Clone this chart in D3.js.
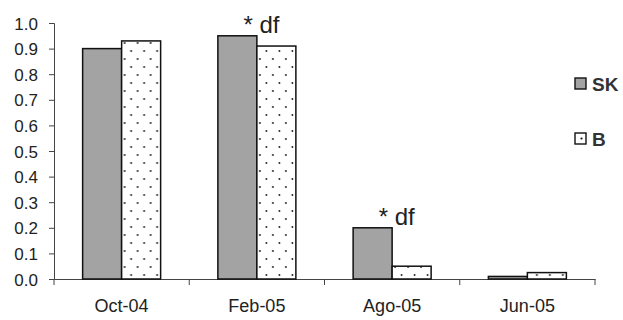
<!DOCTYPE html>
<html>
<head>
<meta charset="utf-8">
<script src="https://cdn.jsdelivr.net/npm/d3@7"></script>
<style>
  body { margin: 0; background: #fff; }
  svg { display: block; font-family: "Liberation Sans", Arial, sans-serif; }
</style>
</head>
<body>
<div id="chart"></div>
<script>
// Data
const categories = ["Oct-04", "Feb-05", "Ago-05", "Jun-05"];
const seriesNames = ["SK", "B"];
const skValues = [0.90, 0.95, 0.20, 0.01];
const bValues = [0.93, 0.91, 0.05, 0.025];
const yTicks = [0, 0.1, 0.2, 0.3, 0.4, 0.5, 0.6, 0.7, 0.8, 0.9, 1.0];
const annotations = [
    { cat: "Feb-05", series: "SK", text: "* df" },
    { cat: "Ago-05", series: "SK", text: "* df" }
];

const canvas = { w: 623, h: 320 };
const margin = { top: 23, right: 28, bottom: 41, left: 54 };
const plotW = 595 - margin.left;
const plotH = canvas.h - margin.top - margin.bottom;

const rows = categories.map((c, i) => ({ cat: c, SK: skValues[i], B: bValues[i] }));

const svg = d3.select("#chart").append("svg")
    .attr("width", canvas.w)
    .attr("height", canvas.h);

// dotted pattern for B
const defs = svg.append("defs");
const pat = defs.append("pattern")
    .attr("id", "dots")
    .attr("patternUnits", "userSpaceOnUse")
    .attr("width", 13)
    .attr("height", 16);
pat.append("rect").attr("width", 13).attr("height", 16).attr("fill", "#fff");
pat.append("circle").attr("cx", 3).attr("cy", 4).attr("r", 0.9).attr("fill", "#111");
pat.append("circle").attr("cx", 9.5).attr("cy", 12).attr("r", 0.9).attr("fill", "#111");

const fills = { SK: "#a3a3a3", B: "url(#dots)" };

const x0 = d3.scaleBand().domain(categories).range([0, plotW]).paddingInner(0).paddingOuter(0);
const x1 = d3.scaleBand().domain(seriesNames).range([0, 78]);
const groupOffset = (x0.bandwidth() - 78) / 2;
const y = d3.scaleLinear().domain([0, 1]).range([plotH, 0]);

const g = svg.append("g").attr("transform", `translate(${margin.left},${margin.top})`);

// Y axis
const yAxis = g.append("g")
    .call(d3.axisLeft(y).tickValues(yTicks).tickFormat(d3.format(".1f")).tickSize(5).tickPadding(11));
yAxis.selectAll("text").attr("font-size", 17).attr("fill", "#222").attr("dy", "0.36em");
yAxis.selectAll("line,path").attr("stroke", "#444");

// X axis
const xAxis = g.append("g")
    .attr("transform", `translate(0,${plotH})`)
    .call(d3.axisBottom(x0).tickSize(0).tickPadding(20));
xAxis.select(".domain").attr("stroke", "#444");
xAxis.selectAll("text").attr("font-size", 18).attr("fill", "#222");
// boundary ticks between categories
g.append("g").selectAll("line")
    .data(d3.range(categories.length + 1))
    .join("line")
    .attr("x1", d => d * x0.step())
    .attr("x2", d => d * x0.step())
    .attr("y1", plotH)
    .attr("y2", plotH + 6)
    .attr("stroke", "#444");

// Bars
const groups = g.selectAll(".grp")
    .data(rows)
    .join("g")
    .attr("transform", d => `translate(${x0(d.cat) + groupOffset},0)`);

groups.selectAll("rect")
    .data(d => seriesNames.map(s => ({ s, v: d[s] })))
    .join("rect")
    .attr("x", d => x1(d.s))
    .attr("width", x1.bandwidth())
    .attr("y", d => y(d.v))
    .attr("height", d => plotH - y(d.v))
    .attr("fill", d => fills[d.s])
    .attr("stroke", "#111")
    .attr("stroke-width", 1.5);

// Annotations
g.selectAll(".ann")
    .data(annotations)
    .join("text")
    .attr("x", d => x0(d.cat) + groupOffset + x1(d.series) + x1.bandwidth() / 2 + 6)
    .attr("y", d => y(skValues[categories.indexOf(d.cat)]) - 3)
    .attr("text-anchor", "start")
    .attr("font-size", 24)
    .attr("fill", "#222")
    .text(d => d.text);

// Legend
const legend = svg.append("g").attr("transform", "translate(575,78)");
seriesNames.forEach((s, i) => {
    const lg = legend.append("g").attr("transform", `translate(0,${i * 55})`);
    lg.append("rect")
        .attr("width", 11).attr("height", 11)
        .attr("fill", s === "SK" ? fills.SK : "#fff")
        .attr("stroke", "#111").attr("stroke-width", 1.4);
    if (s === "B") {
        lg.append("circle").attr("cx", 6.5).attr("cy", 5.5).attr("r", 1.1).attr("fill", "#111");
    }
    lg.append("text")
        .attr("x", 17).attr("y", 12.5)
        .attr("font-size", 19).attr("font-weight", "bold")
        .attr("fill", "#333")
        .text(s);
});
</script>
</body>
</html>
